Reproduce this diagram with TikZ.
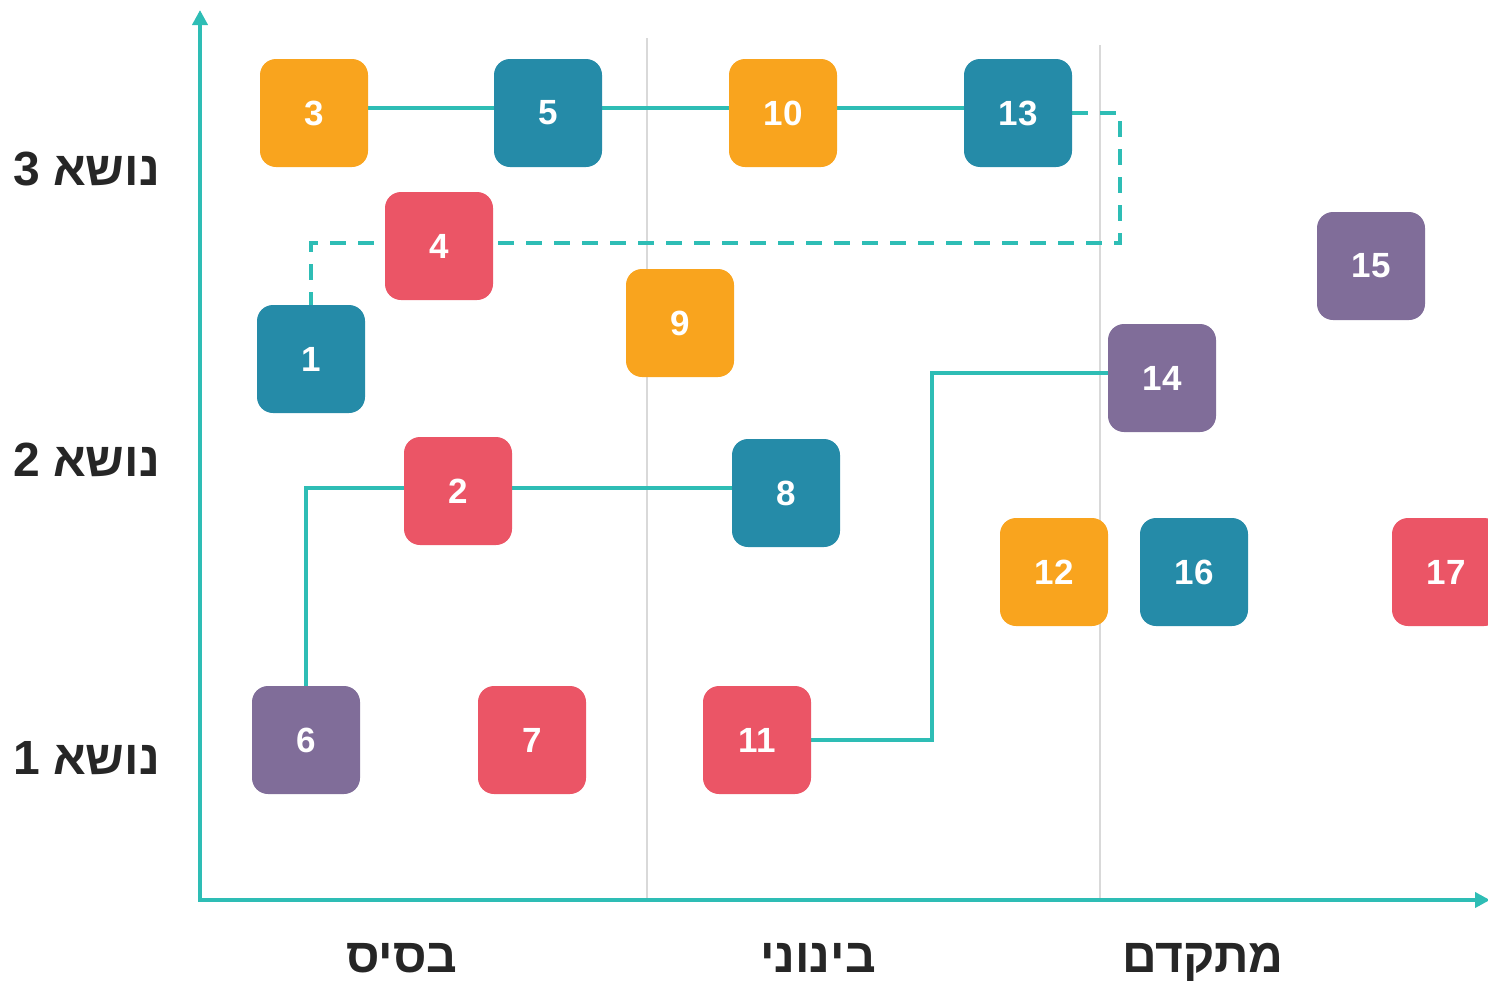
\documentclass[tikz,border=0pt]{standalone}
\usepackage{fontspec}
\setmainfont{Liberation Sans}
\newfontfamily\hebfont[Script=Hebrew]{Liberation Sans}
\TeXXeTstate=1
\usetikzlibrary{arrows.meta,backgrounds}
\definecolor{cOrange}{HTML}{F9A41E}
\definecolor{cBlue}{HTML}{258BA8}
\definecolor{cRed}{HTML}{EB5566}
\definecolor{cPurple}{HTML}{806D99}
\definecolor{cLine}{HTML}{2EBDB5}
\definecolor{cGrid}{HTML}{D9D9D9}
\definecolor{cText}{HTML}{262626}
\begin{document}
\begin{tikzpicture}[x=1pt,y=-1pt,
  box/.style={rounded corners=16pt, minimum size=108pt, inner sep=0pt, text=white,
    font=\fontsize{35}{35}\selectfont\bfseries},
  bo/.style={box, fill=cOrange},
  bb/.style={box, fill=cBlue},
  br/.style={box, fill=cRed},
  bp/.style={box, fill=cPurple},
  axis/.style={draw=cLine, line width=4pt},
  link/.style={draw=cLine, line width=3.2pt},
  dlink/.style={draw=cLine, line width=3.2pt, dash pattern=on 16pt off 12pt},
  grid/.style={draw=cGrid, line width=2.5pt},
  lab/.style={text=cText, font=\hebfont\fontsize{48}{48}\selectfont\bfseries, inner sep=0pt},
]
\useasboundingbox (0,0) rectangle (1488,980);
\clip (0,0) rectangle (1488,980);

% nodes
\node[bo] (n3) at (314,113) {3};
\node[bb] (n5) at (548,113) {5};
\node[bo] (n10) at (783,113) {10};
\node[bb] (n13) at (1018,113) {13};
\node[br] (n4) at (439,246) {4};
\node[bo] (n9) at (680,323) {9};
\node[bb] (n1) at (311,359) {1};
\node[bp] (n15) at (1371,266) {15};
\node[bp] (n14) at (1162,378) {14};
\node[br] (n2) at (458,491) {2};
\node[bb] (n8) at (786,493) {8};
\node[bo] (n12) at (1054,572) {12};
\node[bb] (n16) at (1194,572) {16};
\node[br] (n17) at (1446,572) {17};
\node[bp] (n6) at (306,740) {6};
\node[br] (n7) at (532,740) {7};
\node[br] (n11) at (757,740) {11};

% labels
\node[lab, anchor=base east] (t3) at (160,185) {\beginR נושא 3\endR};
\node[lab, anchor=base east] (t2) at (160,476) {\beginR נושא 2\endR};
\node[lab, anchor=base east] (t1) at (160,774) {\beginR נושא 1\endR};
\node[lab, anchor=base] (l1) at (402,972) {\beginR בסיס\endR};
\node[lab, anchor=base] (l2) at (818,972) {\beginR בינוני\endR};
\node[lab, anchor=base] (l3) at (1203,972) {\beginR מתקדם\endR};

\coordinate (O) at (200,900);
\coordinate (ytop) at (200,10);
\coordinate (xend) at (1490,900);
\coordinate (g1t) at (647,38);
\coordinate (g1b) at (647,900);
\coordinate (g2t) at (1100,45);
\coordinate (g2b) at (1100,900);
\coordinate (d1) at (1120,113);
\coordinate (d2) at (1120,243);
\coordinate (s1) at (306,488);
\coordinate (s2) at (932,740);
\coordinate (s3) at (932,373);

\begin{pgfonlayer}{background}
  \draw[grid] (g1t) -- (g1b);
  \draw[grid] (g2t) -- (g2b);
  \draw[axis, -{Triangle[length=15pt,width=15pt]}] (O) -- (ytop);
  \draw[axis, -{Triangle[length=15pt,width=15pt]}] ([xshift=-2pt]O) -- (xend);
  \draw[link] ([yshift=5pt]n3.east) -- ([yshift=5pt]n5.west);
  \draw[link] ([yshift=5pt]n5.east) -- ([yshift=5pt]n10.west);
  \draw[link] ([yshift=5pt]n10.east) -- ([yshift=5pt]n13.west);
  \draw[dlink] (n13.east) -- (d1) -- (d2) -- (n1.north |- d2) -- (n1.north);
  \draw[link] (n6.north) -- (s1) -- (n2.west |- s1);
  \draw[link] (n2.east |- s1) -- (n8.west |- s1);
  \draw[link] (n11.east) -- (s2) -- (s3) -- (n14.west |- s3);
\end{pgfonlayer}
\end{tikzpicture}
\end{document}
